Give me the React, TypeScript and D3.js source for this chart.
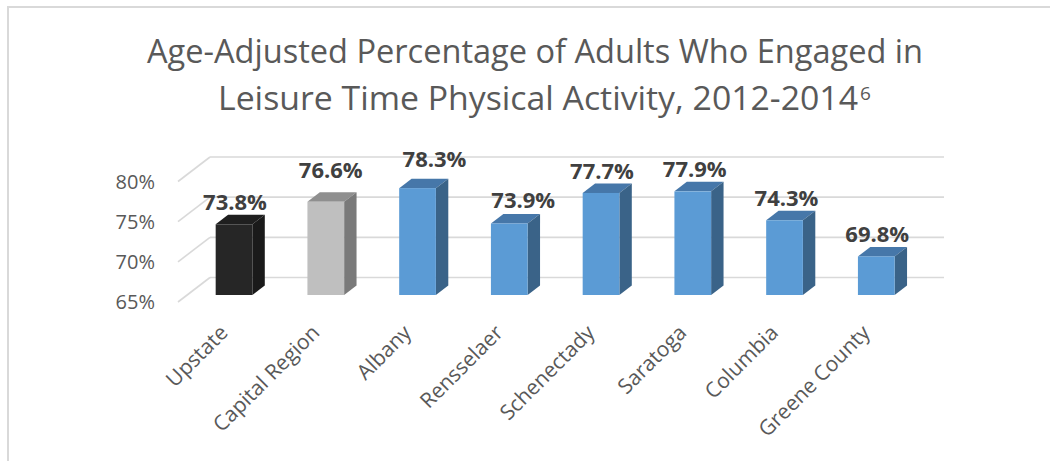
import React from "react";
import * as d3 from "d3";

const titleLine1 = "Age-Adjusted Percentage of Adults Who Engaged in";
const titleLine2 = "Leisure Time Physical Activity, 2012-2014";
const titleNote = "6";

const categories = [
  "Upstate",
  "Capital Region",
  "Albany",
  "Rensselaer",
  "Schenectady",
  "Saratoga",
  "Columbia",
  "Greene County",
];
const values = [73.8, 76.6, 78.3, 73.9, 77.7, 77.9, 74.3, 69.8];
const kinds = ["state", "region", "county", "county", "county", "county", "county", "county"];
const yTicks = [65, 70, 75, 80];
const yDomain = [65, 80];

// label nudges (layout only) [dx, dy]
const labelNudge: [number, number][] = [
  [0, 0],
  [4, -10],
  [16, -7],
  [13, -1],
  [0, 0],
  [1, 0],
  [1, 0],
  [0, 0],
];

const palette: Record<string, { front: string; top: string; side: string }> = {
  state: { front: "#262626", top: "#1f1f1f", side: "#1a1a1a" },
  region: { front: "#bfbfbf", top: "#8f8f8f", side: "#7a7a7a" },
  county: { front: "#5b9bd5", top: "#4677a9", side: "#3a6388" },
};

const W = 1050;
const H = 461;
const DX = 32; // depth offset x (front of floor -> back wall)
const DY = 24.5; // depth offset y
const Z_FRONT = 0.286;
const Z_BACK = 0.674;

export default function App() {
  const x = d3
    .scaleBand<string>()
    .domain(categories)
    .range([179, 913])
    .paddingInner(0.6)
    .paddingOuter(0.3);
  const y = d3.scaleLinear().domain(yDomain).range([302, 181.5]);

  const proj = (px: number, v: number, z: number): [number, number] => [
    px + z * DX,
    y(v) - z * DY,
  ];
  const pts = (arr: [number, number][]) => arr.map((p) => p.join(",")).join(" ");

  const x0 = x.range()[0] - 1;
  const x1 = x.range()[1] - 1;
  const base = yDomain[0];

  return (
    <svg
      width={W}
      height={H}
      style={{ position: "absolute", left: 0, top: 0, background: "#fff" }}
      fontFamily="'Open Sans', sans-serif"
    >
      <rect x={0} y={0} width={W} height={H} fill="#ffffff" />
      {/* chart frame */}
      <path d={`M8,${H + 2} L8,7 L${W + 2},7`} fill="none" stroke="#d9d9d9" strokeWidth={2} />

      {/* title */}
      <text
        x={147}
        y={63}
        fontSize={33.5}
        fill="#595959"
        textLength={776}
        lengthAdjust="spacingAndGlyphs"
      >
        {titleLine1}
      </text>
      <text
        x={218}
        y={110}
        fontSize={33.5}
        fill="#595959"
        textLength={640}
        lengthAdjust="spacingAndGlyphs"
      >
        {titleLine2}
      </text>
      <text x={860} y={100} fontSize={19} fill="#595959">
        {titleNote}
      </text>

      {/* gridlines: back wall and side wall */}
      <g stroke="#d9d9d9" strokeWidth={1.6} fill="none">
        {yTicks.map((t) => {
          const a = proj(x0, t, 1);
          const b = proj(x1, t, 1);
          const c = proj(x0, t, 0);
          return (
            <g key={t}>
              <line x1={a[0]} y1={a[1]} x2={b[0]} y2={b[1]} />
              <line x1={c[0]} y1={c[1]} x2={a[0]} y2={a[1]} />
            </g>
          );
        })}
      </g>

      {/* y tick labels */}
      {yTicks.map((t) => {
        const c = proj(x0, t, 0);
        return (
          <text
            key={t}
            x={c[0] - 23}
            y={c[1]}
            dy="0.35em"
            textAnchor="end"
            fontSize={20}
            fill="#595959"
          >
            {`${t}%`}
          </text>
        );
      })}

      {/* bars */}
      {categories.map((cat, i) => {
        const v = values[i];
        const col = palette[kinds[i]];
        const l = x(cat)!;
        const r = l + x.bandwidth();
        const flt = proj(l, v, Z_FRONT);
        const frt = proj(r, v, Z_FRONT);
        const frb = proj(r, base, Z_FRONT);
        const brt = proj(r, v, Z_BACK);
        const blt = proj(l, v, Z_BACK);
        const brb = proj(r, base, Z_BACK);
        return (
          <g key={cat}>
            <polygon points={pts([flt, frt, brt, blt])} fill={col.top} />
            <polygon points={pts([frt, brt, brb, frb])} fill={col.side} />
            <rect x={flt[0]} y={flt[1]} width={frt[0] - flt[0]} height={frb[1] - frt[1]} fill={col.front} />
          </g>
        );
      })}

      {/* data labels */}
      {categories.map((cat, i) => {
        const v = values[i];
        const l = x(cat)!;
        const cx = l + x.bandwidth() / 2 + Z_FRONT * DX;
        const top = proj(l, v, Z_FRONT)[1];
        return (
          <text
            key={cat}
            x={cx + 1 + labelNudge[i][0]}
            y={top - 14 + labelNudge[i][1]}
            textAnchor="middle"
            fontSize={22}
            fontWeight={700}
            fill="#404040"
          >
            {`${v.toFixed(1)}%`}
          </text>
        );
      })}

      {/* category labels */}
      {categories.map((cat) => {
        const cx = x(cat)! + x.bandwidth() / 2 + Z_FRONT * DX;
        return (
          <text
            key={cat}
            transform={`translate(${cx - 5},334) rotate(-45)`}
            textAnchor="end"
            fontSize={21}
            fill="#595959"
          >
            {cat}
          </text>
        );
      })}
    </svg>
  );
}
